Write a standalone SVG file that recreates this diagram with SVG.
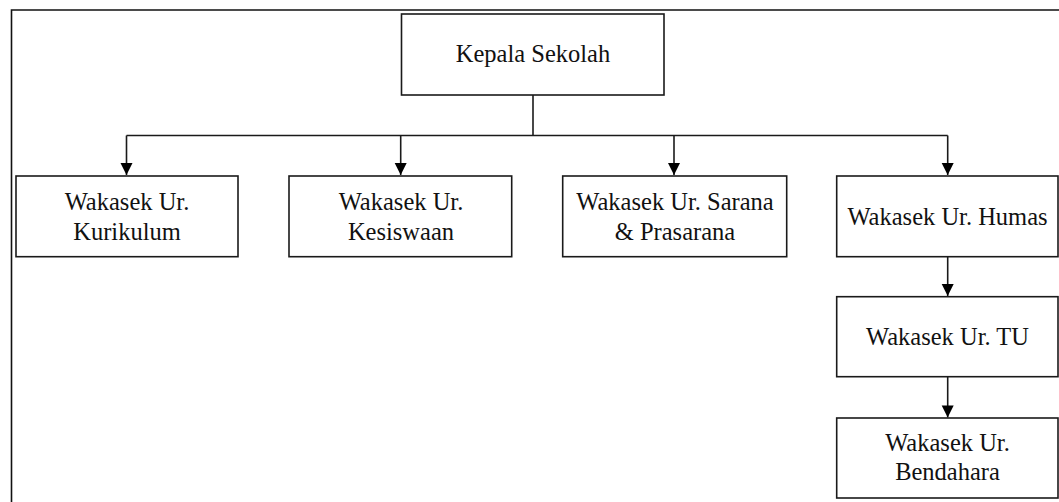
<svg xmlns="http://www.w3.org/2000/svg" width="1059" height="502" viewBox="0 0 1059 502">
<style>
.box{fill:#fff;stroke:#1a1a1a;stroke-width:1.6}
.lbl{font-family:'Liberation Serif','Times New Roman','DejaVu Serif',serif;font-size:24.5px;fill:#111;text-anchor:middle}
.ln{fill:none;stroke:#1a1a1a;stroke-width:1.6}
</style>
<defs>
<marker id="ah" markerUnits="userSpaceOnUse" markerWidth="14" markerHeight="14" viewBox="0 0 14 14" refX="13" refY="7" orient="auto">
<path d="M1,1 L13,7 L1,13 Z" fill="#000"/>
</marker>
</defs>
<rect width="1059" height="502" fill="#fff"/>
<path d="M11.5,502 V10 H1059" fill="none" stroke="#111" stroke-width="1.6"/>
<g id="connectors">
<path class="ln" d="M533,95 V135.5" stroke-width="3"/>
<path class="ln" d="M126.5,135.5 H947.7"/>
<path class="ln" d="M126.5,135.5 V175" marker-end="url(#ah)"/>
<path class="ln" d="M400.7,135.5 V175" marker-end="url(#ah)"/>
<path class="ln" d="M674,135.5 V175" marker-end="url(#ah)"/>
<path class="ln" d="M947.7,135.5 V175" marker-end="url(#ah)"/>
<path class="ln" d="M947.7,256.7 V296" marker-end="url(#ah)"/>
<path class="ln" d="M947.7,376.7 V417.5" marker-end="url(#ah)"/>
</g>
<g id="kepala">
<rect class="box" x="401.5" y="14" width="262.5" height="81"/>
<text class="lbl" x="533" y="62" font-family="Liberation Serif, serif">Kepala Sekolah</text>
</g>
<g id="kurikulum">
<rect class="box" x="16" y="176" width="222" height="80.7"/>
<text class="lbl" x="127" y="210">Wakasek Ur.</text>
<text class="lbl" x="127" y="240">Kurikulum</text>
</g>
<g id="kesiswaan">
<rect class="box" x="289" y="176" width="222.7" height="80.7"/>
<text class="lbl" x="401" y="210">Wakasek Ur.</text>
<text class="lbl" x="401" y="240">Kesiswaan</text>
</g>
<g id="sarana">
<rect class="box" x="562.7" y="176" width="224" height="80.7"/>
<text class="lbl" x="675" y="210">Wakasek Ur. Sarana</text>
<text class="lbl" x="675" y="240">&amp; Prasarana</text>
</g>
<g id="humas">
<rect class="box" x="836.7" y="176" width="221.3" height="80.7"/>
<text class="lbl" x="947.5" y="225">Wakasek Ur. Humas</text>
</g>
<g id="tu">
<rect class="box" x="836.7" y="296.7" width="221.3" height="80"/>
<text class="lbl" x="947.5" y="344.5">Wakasek Ur. TU</text>
</g>
<g id="bendahara">
<rect class="box" x="836.7" y="418" width="221.3" height="80"/>
<text class="lbl" x="947.5" y="451">Wakasek Ur.</text>
<text class="lbl" x="947.5" y="480">Bendahara</text>
</g>
</svg>
